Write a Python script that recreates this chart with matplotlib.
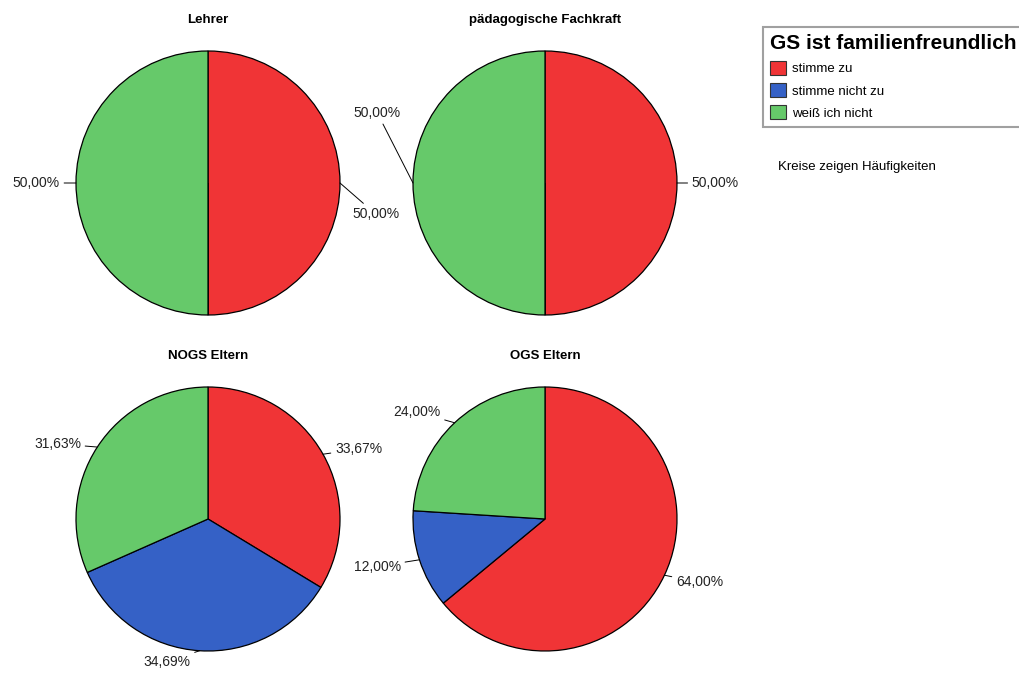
import numpy as np
import matplotlib
matplotlib.use("Agg")
import matplotlib.pyplot as plt
from matplotlib.patches import Patch

plt.rcParams['font.family'] = ['Liberation Sans', 'DejaVu Sans']

# Antworten je Gruppe (Anteile in %)
kategorien = ["stimme zu", "stimme nicht zu", "weiß ich nicht"]
gruppen = ["Lehrer", "pädagogische Fachkraft", "NOGS Eltern", "OGS Eltern"]
lehrer = [50.00, 0.0, 50.00]
fachkraft = [50.00, 0.0, 50.00]
nogs_eltern = [33.67, 34.69, 31.63]
ogs_eltern = [64.00, 12.00, 24.00]
werte = [lehrer, fachkraft, nogs_eltern, ogs_eltern]

farben = ["#f03436", "#3561c6", "#66c96a"]

# Mittelpunkte der Kreise in Pixel, Radius in Pixel
W, H = 1019, 675
mitten = [(208, 183), (545, 183), (208, 519), (545, 519)]
R = 132

# Position der Beschriftungen (in Radius-Einheiten relativ zum Mittelpunkt)
label_pos = [
    [(1.27, -0.235), None, (-1.30, 0.0)],
    [(1.29, 0.0), None, (-1.27, 0.53)],
    [(1.14, 0.53), (-0.31, -1.08), (-1.14, 0.57)],
    [(1.17, -0.48), (-1.27, -0.36), (-0.97, 0.81)],
]

fig = plt.figure(figsize=(W / 100, H / 100), dpi=100)

for gruppe, vals, (cx, cy), lpos in zip(gruppen, werte, mitten, label_pos):
    ax = fig.add_axes([(cx - R) / W, (H - cy - R) / H, 2 * R / W, 2 * R / H])
    wedges, _ = ax.pie(vals, colors=farben, startangle=90, counterclock=False,
                       radius=1.0,
                       wedgeprops=dict(edgecolor="black", linewidth=0.9))
    ax.set_xlim(-1, 1)
    ax.set_ylim(-1, 1)
    ax.set_aspect("equal")
    ax.axis("off")
    ax.text(0, 1 + 31 / R, gruppe, ha="center", va="center",
            fontsize=9.5, fontweight="bold")

    # Beschriftungen mit Führungslinien
    start = 0.0
    for v, pos in zip(vals, lpos):
        if v <= 0:
            continue
        mid = start + v / 2
        start += v
        ang = np.deg2rad(90 - mid / 100 * 360)
        ex, ey = np.cos(ang), np.sin(ang)
        ax.annotate(f"{v:.2f}%".replace(".", ","), xy=(ex, ey), xytext=pos,
                    ha="center", va="center", fontsize=10, color="#222222",
                    annotation_clip=False,
                    arrowprops=dict(arrowstyle="-", color="black", lw=0.7,
                                    shrinkA=1, shrinkB=0))

# Legende
handles = [Patch(facecolor=c, edgecolor="#333333", linewidth=0.8) for c in farben]
leg = fig.legend(handles, kategorien, title="GS ist familienfreundlich",
                 loc="upper left", bbox_to_anchor=(763 / W, 1 - 27 / H),
                 fontsize=9.5, title_fontproperties=dict(size=15, weight="bold"),
                 frameon=True, fancybox=False, edgecolor="#888888",
                 handlelength=1.2, handleheight=1.2, handletextpad=0.45,
                 labelspacing=0.6, borderpad=0.55, borderaxespad=0,
                 alignment="left")
leg.get_frame().set_linewidth(1.5)

fig.text(778 / W, 1 - 167 / H, "Kreise zeigen Häufigkeiten",
         ha="left", va="center", fontsize=9.5)

fig.savefig("out.png", dpi=100, facecolor="white")
